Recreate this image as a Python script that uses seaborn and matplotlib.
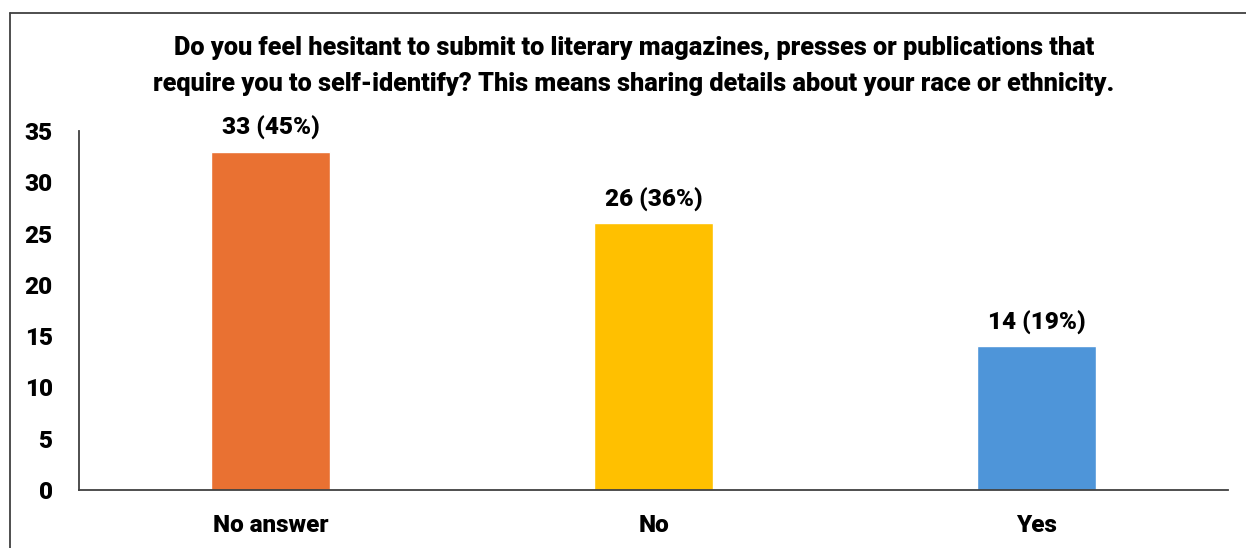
import matplotlib
matplotlib.use("Agg")
import matplotlib.pyplot as plt
import seaborn as sns
import pandas as pd

categories = ["No answer", "No", "Yes"]
counts = [33, 26, 14]
percents = [45, 36, 19]
bar_colors = ["#E97132", "#FFC000", "#4E95D9"]
y_ticks = [0, 5, 10, 15, 20, 25, 30, 35]
title = ("Do you feel hesitant to submit to literary magazines, presses or publications that\n"
         "require you to self-identify? This means sharing details about your race or ethnicity.")

sns.set_theme(style="white")
plt.rcParams["font.family"] = ["Roboto", "DejaVu Sans"]

df = pd.DataFrame({"answer": categories, "count": counts})

fig = plt.figure(figsize=(12.46, 5.48), dpi=100)
ax = fig.add_axes([79 / 1246, 1 - 490 / 548, (1228 - 79) / 1246, (490 - 131) / 548])

sns.barplot(data=df, x="answer", y="count", hue="answer", palette=bar_colors,
            width=0.313, legend=False, ax=ax, saturation=1)

ax.set_xlim(-0.5, 2.5)
ax.set_ylim(0, 35)
ax.set_yticks(y_ticks)
ax.set_xlabel("")
ax.set_ylabel("")
for s in ["top", "right"]:
    ax.spines[s].set_visible(False)
for s in ["left", "bottom"]:
    ax.spines[s].set_color("#404040")
    ax.spines[s].set_linewidth(1.3)
ax.tick_params(axis="both", length=0, labelsize=17.5, colors="black")
ax.tick_params(axis="y", pad=19)
ax.tick_params(axis="x", pad=17)
for lbl in ax.get_xticklabels() + ax.get_yticklabels():
    lbl.set_fontweight("heavy")

for i, (c, p) in enumerate(zip(counts, percents)):
    ax.text(i, c + 1.1, f"{c} ({p}%)", ha="center", va="bottom",
            fontsize=17.5, fontweight="heavy", color="black")

fig.text(634 / 1246, 1 - 66 / 548, title, ha="center", va="center",
         fontsize=18.2, fontweight="heavy", color="black", linespacing=1.62)

# outer frame lines along left and top edges
fig.add_artist(plt.Line2D([10 / 1246, 10 / 1246], [0, 1 - 13 / 548],
                          transform=fig.transFigure, color="#404040", lw=1.3))
fig.add_artist(plt.Line2D([10 / 1246, 1], [1 - 13 / 548, 1 - 13 / 548],
                          transform=fig.transFigure, color="#404040", lw=1.3))

fig.savefig("out.png", dpi=100)
